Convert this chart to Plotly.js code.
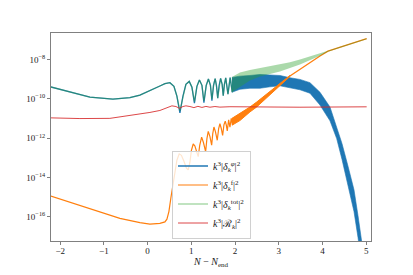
<!DOCTYPE html>
<html><head><meta charset="utf-8">
<script src="https://cdn.plot.ly/plotly-3.0.1.min.js"></script>
<style>html,body{margin:0;padding:0;background:#fff}#chart{width:413px;height:275px}</style>
</head><body><div id="chart"></div>
<script>
// ---- data (y values stored as log10 of the plotted quantity) ----
// resolved oscillations, shared x for delta_phi and delta_tot
const xOsc = [-2.213, -1.778, -1.320, -0.794, -0.405, -0.176, 0.053, 0.281, 0.396, 0.510, 0.602, 0.670, 0.739, 0.808, 0.876, 0.952, 1.014, 1.071, 1.128, 1.185, 1.243, 1.288, 1.341, 1.391, 1.437, 1.471, 1.508, 1.545, 1.574, 1.604, 1.636, 1.670, 1.705, 1.730, 1.757, 1.787, 1.838, 1.888, 1.936];
const logTot = [-9.392, -9.658, -9.910, -10.010, -9.935, -9.809, -9.593, -9.342, -9.221, -9.171, -9.357, -9.859, -10.613, -9.859, -9.256, -9.106, -9.407, -10.136, -9.357, -9.030, -9.307, -10.095, -9.307, -8.980, -9.307, -10.010, -9.307, -8.970, -9.307, -9.960, -9.307, -8.955, -9.256, -9.834, -9.256, -8.930, -9.759, -8.915, -9.658];
const logPhi = [-9.392, -9.658, -9.910, -10.010, -9.935, -9.809, -9.593, -9.342, -9.221, -9.171, -9.357, -9.859, -10.714, -9.859, -9.256, -9.106, -9.407, -10.211, -9.357, -9.030, -9.307, -10.186, -9.307, -8.980, -9.307, -10.085, -9.307, -8.970, -9.307, -9.960, -9.307, -8.955, -9.256, -9.834, -9.256, -8.930, -9.759, -8.915, -9.658];
// dense oscillation band of delta_phi (upper / lower envelope)
const xPhiBand = [1.929, 2.112, 2.341, 2.570, 2.799, 3.027, 3.256, 3.485, 3.714, 3.943, 4.172, 4.325, 4.446, 4.584, 4.721, 4.812, 4.904, 4.995];
const logPhiHi = [-8.905, -8.839, -8.804, -8.754, -8.779, -8.804, -8.920, -9.005, -9.171, -9.658, -10.412, -11.467, -12.271, -13.427, -14.633, -15.940, -17.246, -18.804];
const logPhiLo = [-9.658, -9.508, -9.457, -9.457, -9.382, -9.332, -9.422, -9.533, -9.709, -10.312, -11.116, -12.020, -13.075, -14.332, -15.739, -17.045, -18.452, -20.060];
// dense oscillation band of delta_tot
const xTotBand = [1.929, 2.112, 2.341, 2.570, 2.799, 3.027, 3.256, 3.485, 3.714, 3.943, 4.126, 4.400, 4.629, 5.011];
const logTotHi = [-8.879, -8.653, -8.528, -8.427, -8.352, -8.251, -8.126, -7.990, -7.839, -7.678, -7.548, -7.347, -7.191, -6.910];
const logTotLo = [-9.658, -9.407, -9.055, -8.854, -8.729, -8.603, -8.427, -8.251, -8.040, -7.799, -7.598, -7.397, -7.241, -6.960];
// delta_f
const xF = [-2.213, -1.778, -1.092, -0.634, -0.176, 0.053, 0.281, 0.396, 0.442, 0.487, 0.533, 0.579, 0.625, 0.670, 0.723, 0.773, 0.831, 0.888, 0.929, 0.968, 1.002, 1.043, 1.082, 1.124, 1.158, 1.192, 1.236, 1.277, 1.327, 1.357, 1.387, 1.426, 1.465, 1.490, 1.517, 1.551, 1.593, 1.625, 1.654, 1.684, 1.716, 1.746, 1.776, 1.799, 1.822, 1.854, 1.883, 1.913, 1.941];
const logF = [-14.950, -15.261, -15.789, -16.090, -16.307, -16.377, -16.342, -16.266, -16.126, -15.739, -15.035, -14.382, -13.729, -13.126, -12.799, -12.874, -13.176, -13.528, -13.613, -13.226, -12.623, -12.296, -12.397, -12.724, -12.940, -12.372, -11.945, -12.221, -12.688, -12.020, -11.653, -11.920, -12.357, -11.769, -11.432, -11.668, -12.106, -11.518, -11.266, -11.492, -11.854, -11.317, -11.131, -11.317, -11.633, -11.065, -11.442, -10.990, -11.317];
const xFBand = [1.929, 2.112, 2.341, 2.494, 2.684, 2.799, 3.027, 3.256];
const logFHi = [-10.990, -10.739, -10.412, -10.161, -9.834, -9.608, -9.231, -8.804];
const logFLo = [-11.342, -11.101, -10.663, -10.412, -10.010, -9.759, -9.332, -8.854];
const xFTail = [3.256, 3.485, 3.714, 3.943, 4.126, 4.400, 4.629, 5.011];
const logFTail = [-8.829, -8.477, -8.141, -7.814, -7.563, -7.362, -7.206, -6.925];
// curvature perturbation
const xR = [-2.213, -1.549, -0.863, -0.176, 0.053, 0.281, 0.465, 0.556, 0.648, 0.728, 0.808, 0.876, 0.968, 1.059, 1.151, 1.243, 1.334, 1.426, 1.540, 1.654, 1.883, 2.341, 3.485, 5.011];
const logR = [-10.965, -11.000, -10.990, -10.789, -10.688, -10.588, -10.437, -10.352, -10.387, -10.477, -10.387, -10.352, -10.387, -10.442, -10.377, -10.432, -10.382, -10.422, -10.387, -10.417, -10.397, -10.412, -10.422, -10.402];
// tick labels
const xTicks = [-2, -1, 0, 1, 2, 3, 4, 5];
const yTickExp = [-16, -14, -12, -10, -8];
const seriesNames = [
  '<i>k</i><sup>3</sup>|<i>δ</i><sub><i>k</i></sub><sup><i>φ</i></sup>|<sup>2</sup>',
  '<i>k</i><sup>3</sup>|<i>δ</i><sub><i>k</i></sub><sup>f</sup>|<sup>2</sup>',
  '<i>k</i><sup>3</sup>|<i>δ</i><sub><i>k</i></sub><sup>tot</sup>|<sup>2</sup>',
  '<i>k</i><sup>3</sup>|ℛ<sub><i>k</i></sub>|<sup>2</sup>'
];

const P = a => a.map(v => Math.pow(10, v));
const poly = (x, hi, lo) => ({x: x.concat(x.slice().reverse()), y: P(hi).concat(P(lo).reverse())});

const BLUE = '#1f77b4', ORANGE = '#ff7f0e', GREEN = 'rgba(44,160,44,0.4)', RED = 'rgba(214,39,40,0.85)';
const pb = poly(xPhiBand, logPhiHi, logPhiLo);
const pg = poly(xTotBand, logTotHi, logTotLo);
const pf = poly(xFBand, logFHi, logFLo);

const traces = [
  {x: xOsc, y: P(logPhi), mode: 'lines', line: {color: BLUE, width: 1.3}, name: seriesNames[0]},
  {x: pb.x, y: pb.y, mode: 'lines', fill: 'toself', fillcolor: BLUE, line: {color: BLUE, width: 0.6}, showlegend: false},
  {x: xF, y: P(logF), mode: 'lines', line: {color: ORANGE, width: 1.2}, name: seriesNames[1]},
  {x: pf.x, y: pf.y, mode: 'lines', fill: 'toself', fillcolor: ORANGE, line: {color: ORANGE, width: 1}, showlegend: false},
  {x: xFTail, y: P(logFTail), mode: 'lines', line: {color: ORANGE, width: 1.3}, showlegend: false},
  {x: xOsc, y: P(logTot), mode: 'lines', line: {color: GREEN, width: 1.3}, name: seriesNames[2]},
  {x: pg.x, y: pg.y, mode: 'lines', fill: 'toself', fillcolor: GREEN, line: {width: 0}, showlegend: false},
  {x: xR, y: P(logR), mode: 'lines', line: {color: RED, width: 1}, name: seriesNames[3]}
];
traces.forEach(t => t.hoverinfo = 'skip');

const font = {family: '"Liberation Serif", "DejaVu Serif", serif', size: 9, color: '#222'};
const layout = {
  width: 413, height: 275,
  margin: {l: 51, r: 42, t: 33, b: 31},
  paper_bgcolor: '#fff', plot_bgcolor: '#fff',
  font: font,
  showlegend: true,
  legend: {x: 0.625, y: 0.012, xanchor: 'right', yanchor: 'bottom', bgcolor: 'rgba(255,255,255,0.8)',
           bordercolor: '#d0d0d0', borderwidth: 1, font: {family: font.family, size: 10, color: '#222'}, tracegroupgap: 0},
  xaxis: {range: [-2.21, 5.11], tickvals: xTicks, showgrid: false, zeroline: false, automargin: true,
          showline: true, mirror: true, linecolor: '#808080', linewidth: 1, ticklabelstandoff: -2,
          ticks: 'outside', ticklen: 3, tickcolor: '#808080', tickfont: font,
          title: {text: '<i>N</i> − <i>N</i><sub>end</sub>', font: {family: font.family, size: 10, color: '#222'}, standoff: 0}},
  yaxis: {type: 'log', range: [-17.24, -6.64], tickvals: yTickExp.map(e => Math.pow(10, e)),
          ticktext: yTickExp.map(e => '10<sup>−' + Math.abs(e) + '</sup>'),
          showgrid: false, zeroline: false, showline: true, mirror: true, linecolor: '#808080', linewidth: 1,
          ticks: 'outside', ticklen: 3, tickcolor: '#808080', tickfont: font}
};
Plotly.newPlot('chart', traces, layout, {staticPlot: true, displayModeBar: false});
</script></body></html>
